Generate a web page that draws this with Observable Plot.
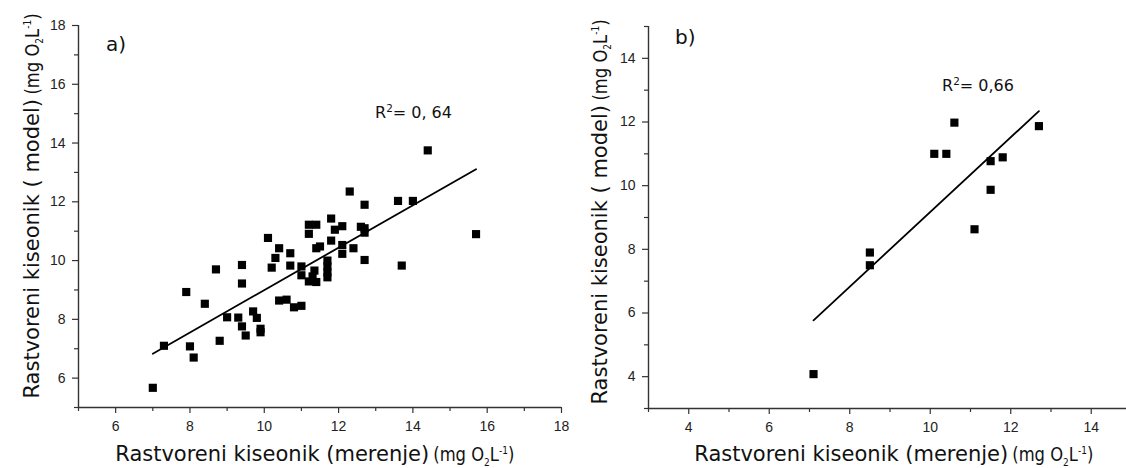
<!DOCTYPE html>
<html><head><meta charset="utf-8">
<script src="https://cdn.jsdelivr.net/npm/d3@7"></script>
<script src="https://cdn.jsdelivr.net/npm/@observablehq/plot@0.6"></script>
<style>
html,body{margin:0;padding:0;background:#fff;overflow:hidden}
#wrap{position:relative;width:1126px;height:468px;overflow:hidden;font-family:"DejaVu Sans",Verdana,sans-serif;color:#111}
.box{position:absolute;top:0}
.t{position:absolute;white-space:nowrap;line-height:1}
.lbl{font-size:21px}
.unit{display:inline-block;font-family:"DejaVu Sans",sans-serif;font-size:19.5px;margin-left:4px;transform:scaleX(0.84);transform-origin:0 50%;margin-right:-15px}
.unit sub,.unit sup{font-size:0.55em;line-height:0}
.r2{font-size:16px}
.r2 sup{font-size:0.65em;line-height:0}
.panel{font-size:20px}
</style></head>
<body><div id="wrap"></div>
<script>
// Panel a data: measured vs model dissolved oxygen
const measuredA = [7.0,7.3,8.0,8.1,7.9,8.4,8.7,8.8,9.4,9.4,9.0,9.3,9.4,9.5,9.7,9.8,9.9,9.9,10.1,10.2,10.3,10.4,10.7,10.7,10.4,10.6,10.8,11.0,11.0,11.0,11.2,11.4,11.2,11.4,11.5,11.35,11.3,11.2,11.4,11.7,11.7,11.7,11.7,11.8,11.8,11.9,12.1,12.1,12.1,12.4,12.3,12.7,12.6,12.7,12.7,12.7,13.6,14.0,14.4,13.7,15.7];
const modelA    = [5.67,7.1,7.08,6.7,8.93,8.53,9.7,7.27,9.85,9.22,8.07,8.06,7.76,7.45,8.27,8.05,7.68,7.56,10.77,9.76,10.09,10.42,10.25,9.83,8.64,8.67,8.41,8.46,9.8,9.5,11.22,11.22,10.91,10.42,10.48,9.66,9.46,9.29,9.27,10.0,9.8,9.6,9.43,11.43,10.68,11.05,11.17,10.53,10.23,10.42,12.35,11.9,11.15,11.1,10.95,10.02,12.03,12.03,13.75,9.83,10.9];
const fitAx = [7.0, 15.7];
const fitAy = [6.83, 13.11];
// Panel b data
const measuredB = [7.1,8.5,8.5,10.1,10.4,10.6,11.1,11.5,11.5,11.8,12.7];
const modelB    = [4.08,7.9,7.5,11.0,11.0,11.98,8.63,10.77,9.87,10.89,11.87];
const fitBx = [7.1, 12.7];
const fitBy = [5.77, 12.34];
// Axis ticks
const xMajorA = [6,8,10,12,14,16,18], xMinorA = [5,7,9,11,13,15,17];
const yMajorA = [6,8,10,12,14,16,18], yMinorA = [5,7,9,11,13,15,17];
const xMajorB = [4,6,8,10,12,14], xMinorB = [3,5,7,9,11,13];
const yMajorB = [4,6,8,10,12,14], yMinorB = [3,5,7,9,11,13,15];
const r2A = "0, 64", r2B = "0,66";

function panel(cfg){
  const dataset = cfg.mx.map((v,i)=>({m:v, p:cfg.my[i]}));
  const fit = cfg.fx.map((v,i)=>({m:v, p:cfg.fy[i]}));
  const ax = {stroke:"#333", strokeWidth:1.2, label:null};
  return Plot.plot({
    width: cfg.width, height: 468,
    marginLeft: 78, marginRight: cfg.mr, marginTop: cfg.mt, marginBottom: cfg.mb,
    x: {domain: cfg.xd}, y: {domain: cfg.yd},
    style: {fontFamily:"'Liberation Sans', Arial, sans-serif", fontSize:"14px", color:"#222", background:"transparent", overflow:"visible"},
    marks: [
      Plot.axisX(cfg.xMaj, {...ax, anchor:"bottom", tickSize:6, tickPadding:8, fontSize:14}),
      Plot.axisX(cfg.xMin, {...ax, anchor:"bottom", tickSize:4, tickFormat:()=>""}),
      Plot.axisY(cfg.yMaj, {...ax, anchor:"left", tickSize:6, tickPadding:7, fontSize:14}),
      Plot.axisY(cfg.yMin, {...ax, anchor:"left", tickSize:4, tickFormat:()=>""}),
      Plot.ruleX([cfg.xd[0]], {stroke:"#333", strokeWidth:1.4}),
      Plot.ruleY([cfg.yd[0]], {stroke:"#333", strokeWidth:1.4}),
      Plot.line(fit, {x:"m", y:"p", stroke:"#000", strokeWidth:1.8}),
      Plot.dot(dataset, {x:"m", y:"p", symbol:"square", r:4.6, fill:"#000", stroke:"none"})
    ]
  });
}

const wrap = document.getElementById("wrap");
function place(el, left){ const d=document.createElement("div"); d.className="box"; d.style.left=left+"px"; d.appendChild(el); wrap.appendChild(d); }

place(panel({mx:measuredA,my:modelA,fx:fitAx,fy:fitAy,width:580,mr:19,mt:25,mb:61,xd:[5,18],yd:[5,18],
  xMaj:xMajorA,xMin:xMinorA,yMaj:yMajorA,yMin:yMinorA}), 0);
place(panel({mx:measuredB,my:modelB,fx:fitBx,fy:fitBy,width:556,mr:0,mt:26,mb:60,xd:[3,14.876],yd:[3,15],
  xMaj:xMajorB,xMin:xMinorB,yMaj:yMajorB,yMin:yMinorB}), 570);

function text(html, cls, css){ const d=document.createElement("div"); d.className="t "+cls; d.innerHTML=html; Object.assign(d.style, css); wrap.appendChild(d); return d; }
const unitHTML = '<span class="unit">(mg O<sub>2</sub>L<sup>-1</sup>)</span>';
text('Rastvoreni kiseonik (merenje)'+unitHTML, "lbl", {left:"315px", top:"444px", transform:"translateX(-50%)"});
text('Rastvoreni kiseonik (merenje)'+unitHTML, "lbl", {left:"894px", top:"444px", transform:"translateX(-50%)"});
text('Rastvoreni kiseonik ( model)'+unitHTML, "lbl", {left:"32px", top:"206px", transform:"translate(-50%,-50%) rotate(-90deg)"});
text('Rastvoreni kiseonik ( model)'+unitHTML, "lbl", {left:"600px", top:"212px", transform:"translate(-50%,-50%) rotate(-90deg)"});
text('R<sup>2</sup>= '+r2A, "r2", {left:"375px", top:"104.5px"});
text('R<sup>2</sup>= '+r2B, "r2", {left:"942px", top:"77.5px"});
text('a)', "panel", {left:"106px", top:"34px"});
text('b)', "panel", {left:"675px", top:"27px"});
</script></body></html>
